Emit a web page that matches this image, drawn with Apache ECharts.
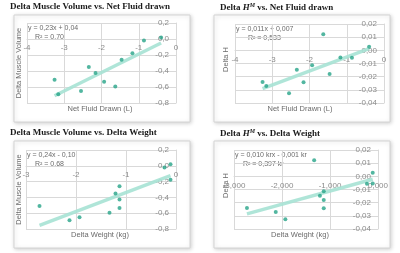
<!DOCTYPE html>
<html>
<head>
<meta charset="utf-8">
<script src="https://cdn.jsdelivr.net/npm/echarts@6/dist/echarts.min.js"></script>
<style>
  html, body { margin: 0; padding: 0; background: #fff; }
  #chart { width: 400px; height: 253px; }
</style>
</head>
<body>
<div id="chart"></div>
<script>
// one value per subject (same order in every array)
const netFluid = [-3.26, -3.16, -2.55, -2.34, -2.16, -1.93, -1.63, -1.46, -1.17, -0.86, -0.40];
const deltaWeight = [-2.73, -2.13, -1.93, -1.21, -1.13, -1.13, -1.33, -1.13, -0.11, -0.23, -0.11];
const muscleVolume = [-0.51, -0.69, -0.65, -0.35, -0.425, -0.535, -0.593, -0.26, -0.178, -0.02, 0.02];
const deltaH = [-0.024, -0.027, -0.0326, -0.0147, -0.0243, -0.0114, 0.0123, -0.0179, -0.0055, -0.0057, 0.0028];

// trendline end points as drawn in the picture
const trendFluidMuscle = [[-3.26, -0.71], [-0.40, -0.05]];
const trendFluidH = [[-3.26, -0.029], [-0.40, 0.0013]];
const trendWeightMuscle = [[-2.73, -0.755], [-0.11, -0.125]];
const trendWeightH = [[-2.73, -0.0285], [-0.11, -0.0022]];

const titles = [
  '{b|Delta Muscle Volume vs. Net Fluid drawn}',
  '{b|Delta }{i|H}{s|M}{b| vs. Net Fluid drawn}',
  '{b|Delta Muscle Volume vs. Delta Weight}',
  '{b|Delta }{i|H}{s|M}{b| vs. Delta Weight}'
];
const equations = [
  ['y = 0,23x + 0,04', 'R² = 0,70'],
  ['y = 0,011x + 0,007', 'R² = 0,533'],
  ['y = 0,24x - 0,10', 'R² = 0,68'],
  ['y = 0,010 krx - 0,001 kr', 'R² = 0,397 kr']
];
const xTitles = ['Net Fluid Drawn (L)', 'Net Fluid Drawn (L)', 'Delta Weight (kg)', 'Delta Weight (kg)'];
const yTitles = ['Delta Muscle Volume', 'Delta H', 'Delta Muscle Volume', 'Delta H'];

// [min, max, interval, decimals]
const xRanges = [[-4, 0, 1, 0], [-4, 0, 1, 0], [-3, 0, 1, 0], [-3, 0, 1, 3]];
const yRanges = [[-0.8, 0.2, 0.2, 1], [-0.04, 0.02, 0.01, 2], [-0.8, 0.2, 0.2, 1], [-0.04, 0.02, 0.01, 2]];

const pairs = [
  [netFluid, muscleVolume, trendFluidMuscle],
  [netFluid, deltaH, trendFluidH],
  [deltaWeight, muscleVolume, trendWeightMuscle],
  [deltaWeight, deltaH, trendWeightH]
];

// layout of each panel: box, plot area, title origin, y-title offsets, R² indent
const panels = [
  { box: [14, 15, 176, 107], grid: [27, 23, 149, 80], tx: 10, ty: 2, yx: 5, yy: 0, r2: 8 },
  { box: [214, 15, 176, 107], grid: [235, 24, 149, 79], tx: 220, ty: 2, yx: 12, yy: -4, r2: 13 },
  { box: [14, 141, 176, 107], grid: [26, 150, 150, 79], tx: 10, ty: 128, yx: 5, yy: 0, r2: 9 },
  { box: [214, 141, 176, 107], grid: [234, 150, 144, 79], tx: 220, ty: 128, yx: 12, yy: -4, r2: 9 }
];

const GRID_COLOR = '#d9d9d9';
const TICK_COLOR = '#8c8c8c';
const TEXT_COLOR = '#6b6b6b';
const DOT_COLOR = '#27a488';
const TREND_COLOR = '#a6e2d4';
const SANS = 'Liberation Sans';
const EQ_FONT = '7px "' + SANS + '"';
const TITLE_FONT = '7.5px "' + SANS + '"';

function fmt(v, d) {
  let s = (Math.round(v * 1e6) / 1e6).toFixed(d);
  if (/^-0(\.0*)?$/.test(s)) s = s.slice(1);
  return s.replace('.', ',');
}

const option = {
  animation: false,
  backgroundColor: '#fff',
  title: [],
  grid: [],
  xAxis: [],
  yAxis: [],
  series: [],
  graphic: []
};

panels.forEach((p, i) => {
  const [bx, by, bw, bh] = p.box;
  option.graphic.push({
    type: 'rect', z: -1,
    shape: { x: bx, y: by, width: bw, height: bh },
    style: { fill: '#fff', stroke: '#d4d4d4', lineWidth: 1,
      shadowBlur: 4, shadowColor: 'rgba(0,0,0,0.18)', shadowOffsetX: 1, shadowOffsetY: 1 }
  });

  option.title.push({
    left: p.tx, top: p.ty, padding: 0,
    text: titles[i],
    textStyle: {
      rich: {
        b: { fontFamily: 'Liberation Serif', fontWeight: 'bold', fontSize: 9, color: '#1a1a1a' },
        i: { fontFamily: 'Liberation Serif', fontWeight: 'bold', fontStyle: 'italic', fontSize: 9, color: '#1a1a1a' },
        s: { fontFamily: 'Liberation Serif', fontWeight: 'bold', fontStyle: 'italic', fontSize: 6, color: '#1a1a1a', verticalAlign: 'top', padding: [0, 0, 5, 0] }
      }
    }
  });

  const [gl, gt, gw, gh] = p.grid;
  option.grid.push({ left: gl, top: gt, width: gw, height: gh, containLabel: false });

  const xr = xRanges[i], yr = yRanges[i];
  // x axis crosses at y = 0: put it on top and push it down to zero
  const zeroDown = yr[1] / (yr[1] - yr[0]) * gh;
  option.xAxis.push({
    type: 'value', gridIndex: i, min: xr[0], max: xr[1], interval: xr[2],
    position: 'top', offset: -zeroDown,
    axisLine: { onZero: false, lineStyle: { color: GRID_COLOR } },
    axisTick: { show: false },
    splitLine: { lineStyle: { color: GRID_COLOR, width: 1 } },
    axisLabel: { inside: true, color: TICK_COLOR, fontFamily: SANS, fontSize: 8, margin: 5,
      formatter: v => fmt(v, xr[3]) }
  });
  // y axis crosses at x = 0, which is the right edge
  option.yAxis.push({
    type: 'value', gridIndex: i, min: yr[0], max: yr[1], interval: yr[2],
    position: 'right',
    axisLine: { show: true, onZero: false, lineStyle: { color: GRID_COLOR } },
    axisTick: { show: false },
    splitLine: { lineStyle: { color: GRID_COLOR, width: 1 } },
    axisLabel: { inside: true, color: TICK_COLOR, fontFamily: SANS, fontSize: 8, margin: 7,
      formatter: v => fmt(v, yr[3]) }
  });

  const [xs, ys, trend] = pairs[i];
  option.series.push({
    type: 'line', xAxisIndex: i, yAxisIndex: i, data: trend,
    showSymbol: false, silent: true, z: 2,
    lineStyle: { color: TREND_COLOR, width: 3.5, opacity: 0.9 }
  });
  option.series.push({
    type: 'scatter', xAxisIndex: i, yAxisIndex: i, z: 3,
    data: xs.map((x, k) => [x, ys[k]]),
    symbolSize: 4,
    itemStyle: { color: DOT_COLOR }
  });

  // trendline equation
  option.graphic.push({
    type: 'text', left: gl + 1, top: gt + 2,
    style: { text: equations[i][0], fill: TEXT_COLOR, font: EQ_FONT }
  });
  option.graphic.push({
    type: 'text', left: gl + p.r2, top: gt + 11,
    style: { text: equations[i][1], fill: TEXT_COLOR, font: EQ_FONT }
  });

  // axis titles
  option.graphic.push({
    type: 'text', x: bx + 86, y: by + 94,
    style: { text: xTitles[i], fill: TEXT_COLOR, font: TITLE_FONT, align: 'center', verticalAlign: 'middle' }
  });
  option.graphic.push({
    type: 'text', x: bx + p.yx, y: gt + gh / 2 + p.yy, rotation: Math.PI / 2,
    style: { text: yTitles[i], fill: TEXT_COLOR, font: TITLE_FONT, align: 'center', verticalAlign: 'middle' }
  });
});

const chart = echarts.init(document.getElementById('chart'));
chart.setOption(option);
</script>
</body>
</html>
